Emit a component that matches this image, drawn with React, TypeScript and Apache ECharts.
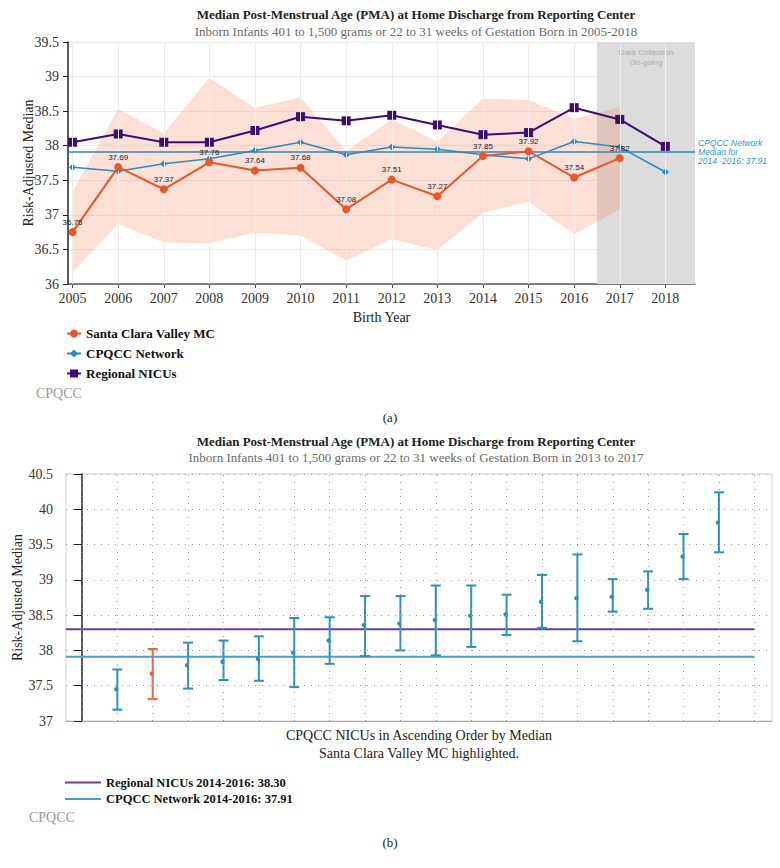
import React, { useEffect, useRef } from "react";
import * as echarts from "echarts";

// ---------- Chart (a) data ----------
const years = [2005, 2006, 2007, 2008, 2009, 2010, 2011, 2012, 2013, 2014, 2015, 2016, 2017, 2018];
const santaClara = [36.75, 37.69, 37.37, 37.76, 37.64, 37.68, 37.08, 37.51, 37.27, 37.85, 37.92, 37.54, 37.82];
const santaClaraLower = [36.17, 36.87, 36.6, 36.59, 36.74, 36.7, 36.34, 36.65, 36.49, 37.03, 37.19, 36.72, 37.08];
const santaClaraUpper = [37.34, 38.53, 38.18, 38.98, 38.55, 38.7, 37.92, 38.38, 38.06, 38.68, 38.66, 38.39, 38.56];
const cpqccNetwork = [37.69, 37.63, 37.74, 37.81, 37.93, 38.05, 37.87, 37.98, 37.95, 37.87, 37.81, 38.06, 37.98, 37.62];
const regionalNicus = [38.05, 38.17, 38.05, 38.05, 38.22, 38.42, 38.36, 38.44, 38.3, 38.16, 38.19, 38.55, 38.38, 37.99];
const networkMedianTop = 37.91;
const dataCollectionStart = 2016.5;
const topXMin = 2004.9;
const topXMax = 2018.65;

// ---------- Chart (b) data ----------
const nicuMedian = [37.45, 37.67, 37.79, 37.84, 37.88, 37.97, 38.14, 38.36, 38.38, 38.43, 38.49, 38.51, 38.69, 38.74, 38.76, 38.86, 39.33, 39.81];
const nicuLower = [37.16, 37.31, 37.46, 37.58, 37.57, 37.48, 37.81, 37.92, 38.0, 37.93, 38.05, 38.22, 38.32, 38.13, 38.55, 38.59, 39.01, 39.39];
const nicuUpper = [37.73, 38.02, 38.11, 38.14, 38.2, 38.46, 38.47, 38.77, 38.77, 38.92, 38.92, 38.79, 39.07, 39.36, 39.01, 39.12, 39.65, 40.24];
const highlightedNicu = 1;
const regionalMedian = 38.3;
const networkMedian = 37.91;
const bottomXMin = -0.45;
const bottomXMax = 19.5;

const ORANGE = "#e8562a";
const BLUE = "#2a8cbf";
const PURPLE = "#3c0d78";
const SERIF = "Liberation Serif";

export default function App() {
  const ref = useRef<HTMLDivElement>(null);

  useEffect(() => {
    if (!ref.current) return;
    const chart = echarts.init(ref.current, undefined, { renderer: "svg" });

    const slots: number[] = [];
    for (let i = 0; i <= nicuMedian.length + 1; i++) slots.push(i);
    const lastSlot = nicuMedian.length + 1;

    const option: any = {
      animation: false,
      textStyle: { fontFamily: SERIF },
      grid: [
        { left: 68, right: 85, top: 42, bottom: 584 },
        { left: 66, right: 8, top: 474, bottom: 147, show: true, borderColor: "#cfcfcf", borderWidth: 1 },
      ],
      xAxis: [
        {
          gridIndex: 0,
          type: "value",
          min: topXMin,
          max: topXMax,
          name: "Birth Year",
          nameLocation: "middle",
          nameGap: 26,
          nameMoveOverlap: false,
          nameTextStyle: { fontSize: 14, color: "#222", fontFamily: SERIF },
          axisLine: { lineStyle: { color: "#555", width: 1.5 } },
          axisTick: { customValues: years, length: 4, lineStyle: { color: "#555" } },
          axisLabel: { customValues: years, formatter: (v: number) => String(v), fontSize: 14, color: "#333", margin: 7, fontFamily: SERIF },
          splitLine: { show: false },
        },
        {
          gridIndex: 1,
          type: "value",
          min: bottomXMin,
          max: bottomXMax,
          name: "CPQCC NICUs in Ascending Order by Median\nSanta Clara Valley MC highlighted.",
          nameLocation: "middle",
          nameGap: 5,
          nameMoveOverlap: false,
          nameTextStyle: { fontSize: 14, lineHeight: 18, color: "#222", verticalAlign: "top", fontFamily: SERIF },
          axisLine: { lineStyle: { color: "#aaa" } },
          axisTick: { show: false },
          axisLabel: { show: false },
          splitLine: { show: false },
        },
      ],
      yAxis: [
        {
          gridIndex: 0,
          type: "value",
          min: 36,
          max: 39.5,
          interval: 0.5,
          name: "Risk-Adjusted Median",
          nameLocation: "middle",
          nameGap: 33,
          nameMoveOverlap: false,
          nameTextStyle: { fontSize: 14, color: "#222", fontFamily: SERIF },
          axisLine: { show: true, lineStyle: { color: "#222", width: 1.5 } },
          axisTick: { show: true, length: 5, lineStyle: { color: "#222" } },
          axisLabel: { fontSize: 14, color: "#333", margin: 9, fontFamily: SERIF },
          splitLine: { lineStyle: { color: "#ebebeb" } },
        },
        {
          gridIndex: 1,
          type: "value",
          min: 37,
          max: 40.5,
          interval: 0.5,
          name: "Risk-Adjusted Median",
          nameLocation: "middle",
          nameGap: 42,
          nameMoveOverlap: false,
          nameTextStyle: { fontSize: 14, color: "#222", fontFamily: SERIF },
          axisLine: { show: true, lineStyle: { color: "#222", width: 1.5 } },
          axisTick: { show: true, length: 8, lineStyle: { color: "#222" } },
          axisLabel: { fontSize: 14, color: "#333", margin: 13, fontFamily: SERIF },
          splitLine: { lineStyle: { color: "#999", type: [1, 6] } },
        },
      ],
      legend: [
        {
          data: ["Santa Clara Valley MC", "CPQCC Network", "Regional NICUs"],
          orient: "vertical",
          left: 61,
          top: 322,
          itemWidth: 14,
          itemHeight: 10,
          itemGap: 7,
          selectedMode: false,
          textStyle: { fontSize: 13, fontWeight: "bold", color: "#111", fontFamily: SERIF },
        },
        {
          data: ["Regional NICUs 2014-2016: 38.30", "CPQCC Network 2014-2016: 37.91"],
          orient: "vertical",
          left: 60,
          top: 771,
          icon: "rect",
          itemWidth: 36,
          itemHeight: 2,
          itemGap: 3.5,
          selectedMode: false,
          textStyle: { fontSize: 12.5, fontWeight: "bold", color: "#111", fontFamily: SERIF },
        },
      ],
      series: [
        {
          name: "vgridTop",
          type: "line",
          xAxisIndex: 0,
          yAxisIndex: 0,
          data: [],
          z: 0,
          silent: true,
          markLine: {
            silent: true,
            symbol: ["none", "none"],
            label: { show: false },
            lineStyle: { color: "#ececec", width: 1, type: "solid" },
            data: years.map((y) => ({ xAxis: y })),
          },
        },
        {
          name: "ongoing",
          type: "line",
          xAxisIndex: 0,
          yAxisIndex: 0,
          data: [],
          z: 1,
          silent: true,
          markArea: {
            silent: true,
            itemStyle: { color: "#dcdcdc" },
            label: {
              show: true,
              position: "insideTop",
              distance: 5,
              formatter: "Data Collection\nOn-going",
              color: "#aaa",
              fontSize: 8,
              lineHeight: 10,
              fontFamily: "Liberation Sans",
            },
            data: [[{ xAxis: dataCollectionStart }, { xAxis: topXMax }]],
          },
        },
        {
          name: "band",
          type: "custom",
          xAxisIndex: 0,
          yAxisIndex: 0,
          z: 2,
          silent: true,
          data: santaClara.map((_, i) => [years[i], santaClaraLower[i], santaClaraUpper[i]]),
          encode: { x: 0, y: [1, 2] },
          renderItem: (params: any, api: any) => {
            if (params.dataIndexInside !== 0) return null;
            const n = params.dataInsideLength;
            const up: number[][] = [];
            const lo: number[][] = [];
            for (let i = 0; i < n; i++) {
              up.push(api.coord([api.value(0, i), api.value(2, i)]));
              lo.push(api.coord([api.value(0, i), api.value(1, i)]));
            }
            return {
              type: "polygon",
              shape: { points: up.concat(lo.reverse()) },
              style: { fill: "rgba(242,125,85,0.24)" },
            };
          },
        },
        {
          name: "CPQCC Network",
          type: "line",
          xAxisIndex: 0,
          yAxisIndex: 0,
          z: 3,
          data: cpqccNetwork.map((v, i) => [years[i], v]),
          symbol: "diamond",
          symbolSize: 7,
          itemStyle: { color: BLUE, borderWidth: 0 },
          lineStyle: { color: BLUE, width: 1.5 },
          markLine: {
            silent: true,
            symbol: ["none", "none"],
            lineStyle: { color: BLUE, width: 1.5, type: "solid" },
            label: {
              position: "end",
              distance: 3,
              formatter: "CPQCC Network\nMedian for\n2014 -2016: 37.91",
              color: "#2b9bd0",
              fontStyle: "italic",
              fontSize: 8.5,
              lineHeight: 9,
              fontFamily: "Liberation Sans",
            },
            data: [{ yAxis: networkMedianTop }],
          },
        },
        {
          name: "Regional NICUs",
          type: "line",
          xAxisIndex: 0,
          yAxisIndex: 0,
          z: 4,
          data: regionalNicus.map((v, i) => [years[i], v]),
          symbol: "rect",
          symbolSize: 9,
          itemStyle: { color: PURPLE, borderWidth: 0 },
          lineStyle: { color: PURPLE, width: 2 },
        },
        {
          name: "Santa Clara Valley MC",
          type: "line",
          xAxisIndex: 0,
          yAxisIndex: 0,
          z: 5,
          data: santaClara.map((v, i) => [years[i], v]),
          symbol: "circle",
          symbolSize: 8,
          itemStyle: { color: ORANGE, borderWidth: 0 },
          lineStyle: { color: ORANGE, width: 2 },
          label: {
            show: true,
            position: "top",
            distance: 2,
            fontSize: 8,
            color: "#222",
            fontFamily: "Liberation Sans",
            formatter: (p: any) => Number(p.value[1]).toFixed(2),
          },
        },
        {
          name: "vgridBottom",
          type: "line",
          xAxisIndex: 1,
          yAxisIndex: 1,
          data: [],
          z: 0,
          silent: true,
          markLine: {
            silent: true,
            symbol: ["none", "none"],
            label: { show: false },
            lineStyle: { color: "#999", width: 1, type: [1, 6] },
            data: slots.map((s) => ({ xAxis: s })),
          },
        },
        {
          name: "Regional NICUs 2014-2016: 38.30",
          type: "line",
          xAxisIndex: 1,
          yAxisIndex: 1,
          z: 2,
          symbol: "none",
          data: [
            [bottomXMin, regionalMedian],
            [lastSlot, regionalMedian],
          ],
          itemStyle: { color: "#6e3f90" },
          lineStyle: { color: "#6e3f90", width: 2 },
        },
        {
          name: "CPQCC Network 2014-2016: 37.91",
          type: "line",
          xAxisIndex: 1,
          yAxisIndex: 1,
          z: 2,
          symbol: "none",
          data: [
            [bottomXMin, networkMedian],
            [lastSlot, networkMedian],
          ],
          itemStyle: { color: "#3aa5cf" },
          lineStyle: { color: "#3aa5cf", width: 2 },
        },
        {
          name: "nicus",
          type: "custom",
          xAxisIndex: 1,
          yAxisIndex: 1,
          z: 3,
          silent: true,
          data: nicuMedian.map((m, i) => [i + 1, m, nicuLower[i], nicuUpper[i]]),
          encode: { x: 0, y: [1, 2, 3] },
          renderItem: (params: any, api: any) => {
            const x = api.value(0);
            const top = api.coord([x, api.value(3)]);
            const bot = api.coord([x, api.value(2)]);
            const mid = api.coord([x, api.value(1)]);
            const color = params.dataIndex === highlightedNicu ? "#e8663d" : "#2b8fc0";
            const hw = 5;
            const st = { stroke: color, lineWidth: 2 };
            return {
              type: "group",
              children: [
                { type: "line", shape: { x1: top[0], y1: top[1], x2: bot[0], y2: bot[1] }, style: st },
                { type: "line", shape: { x1: top[0] - hw, y1: top[1], x2: top[0] + hw, y2: top[1] }, style: st },
                { type: "line", shape: { x1: bot[0] - hw, y1: bot[1], x2: bot[0] + hw, y2: bot[1] }, style: st },
                { type: "circle", shape: { cx: mid[0] - 1, cy: mid[1], r: 2.2 }, style: { fill: color } },
              ],
            };
          },
        },
      ],
      graphic: [
        { type: "text", x: 416, y: 14, style: { text: "Median Post-Menstrual Age (PMA) at Home Discharge from Reporting Center", align: "center", verticalAlign: "middle", fontSize: 13, fontWeight: "bold", fontFamily: SERIF, fill: "#222" } },
        { type: "text", x: 416, y: 31, style: { text: "Inborn Infants 401 to 1,500 grams or 22 to 31 weeks of Gestation Born in 2005-2018", align: "center", verticalAlign: "middle", fontSize: 13, fontFamily: SERIF, fill: "#6b6b6b" } },
        { type: "text", x: 36, y: 393, style: { text: "CPQCC", align: "left", verticalAlign: "middle", fontSize: 14, fontFamily: SERIF, fill: "#9a9a9a" } },
        { type: "text", x: 390, y: 417, style: { text: "(a)", align: "center", verticalAlign: "middle", fontSize: 13, fontFamily: SERIF, fill: "#222" } },
        { type: "text", x: 416, y: 441, style: { text: "Median Post-Menstrual Age (PMA) at Home Discharge from Reporting Center", align: "center", verticalAlign: "middle", fontSize: 13, fontWeight: "bold", fontFamily: SERIF, fill: "#222" } },
        { type: "text", x: 416, y: 457, style: { text: "Inborn Infants 401 to 1,500 grams or 22 to 31 weeks of Gestation Born in 2013 to 2017", align: "center", verticalAlign: "middle", fontSize: 13, fontFamily: SERIF, fill: "#6b6b6b" } },
        { type: "text", x: 29, y: 817, style: { text: "CPQCC", align: "left", verticalAlign: "middle", fontSize: 14, fontFamily: SERIF, fill: "#9a9a9a" } },
        { type: "text", x: 390, y: 842, style: { text: "(b)", align: "center", verticalAlign: "middle", fontSize: 13, fontFamily: SERIF, fill: "#222" } },
      ],
    };

    chart.setOption(option);
    return () => chart.dispose();
  }, []);

  return (
    <div
      ref={ref}
      style={{ position: "absolute", left: 0, top: 0, width: 780, height: 868, background: "#fff" }}
    />
  );
}
